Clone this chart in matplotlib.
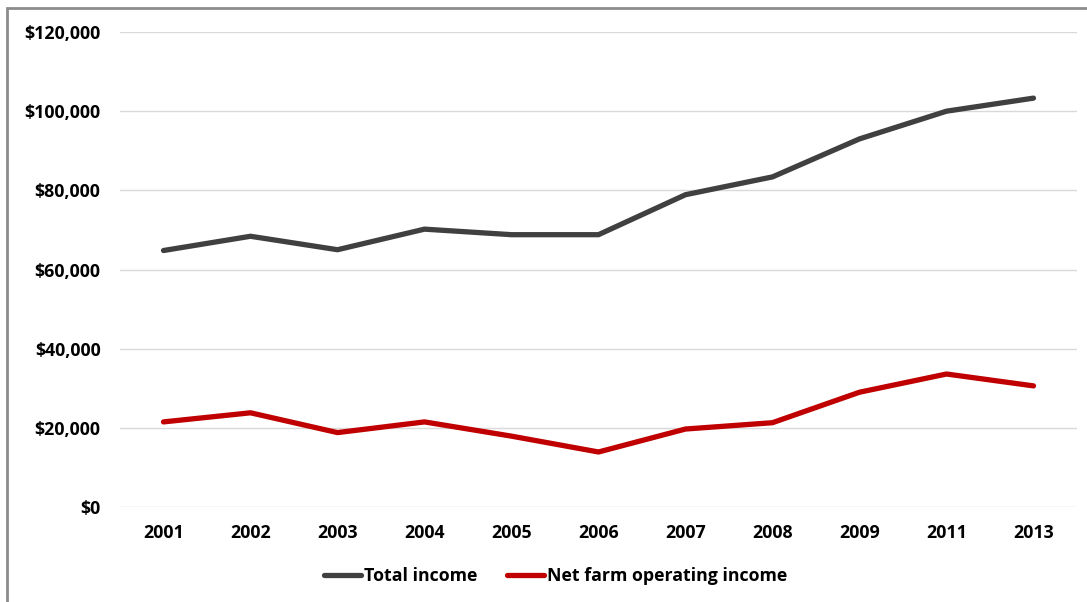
import matplotlib.pyplot as plt
from matplotlib.patches import Rectangle
from matplotlib.ticker import FuncFormatter

# values
years = ['2001', '2002', '2003', '2004', '2005', '2006', '2007', '2008', '2009', '2011', '2013']
total_income = [64800, 68400, 65000, 70200, 68800, 68800, 78900, 83400, 93000, 100000, 103300]
net_farm_income = [21500, 23800, 18800, 21500, 17900, 13900, 19700, 21300, 29000, 33600, 30600]

plt.rcParams['font.family'] = ['Open Sans', 'DejaVu Sans']

fig = plt.figure(figsize=(10.87, 6.02), dpi=100)
ax = fig.add_axes([0.1104, 0.1578, 0.8804, 0.789])

x = range(len(years))
ax.plot(x, total_income, color='#404040', lw=3.8, solid_capstyle='round', label='Total income')
ax.plot(x, net_farm_income, color='#C00000', lw=3.8, solid_capstyle='round', label='Net farm operating income')

ax.set_xlim(-0.5, len(years) - 0.5)
ax.set_ylim(0, 120000)
ax.set_yticks(range(0, 120001, 20000))
ax.yaxis.set_major_formatter(FuncFormatter(lambda v, p: f'${v:,.0f}'))
ax.set_xticks(list(x))
ax.set_xticklabels(years)

ax.grid(axis='y', color='#d9d9d9', lw=1)
ax.set_axisbelow(True)
for s in ax.spines.values():
    s.set_visible(False)
ax.tick_params(length=0, labelsize=12.8, colors='black')
ax.tick_params(axis='y', pad=14)
ax.tick_params(axis='x', pad=12)
for lbl in ax.get_xticklabels() + ax.get_yticklabels():
    lbl.set_fontweight('bold')

fig.legend(loc='center', bbox_to_anchor=(0.511, 0.043), ncol=2, frameon=False,
           handlelength=2.1, handletextpad=0.15, columnspacing=1.7,
           prop={'size': 12.8, 'weight': 'bold'})

# outer chart frame, cut off at the right and bottom like the reference
fig.patches.append(Rectangle((7 / 1087, -0.1), 1.2, 0.1 + 1 - 8 / 602, transform=fig.transFigure,
                             fill=False, edgecolor='#8c8c8c', lw=2))

fig.savefig('out.png', dpi=100)
